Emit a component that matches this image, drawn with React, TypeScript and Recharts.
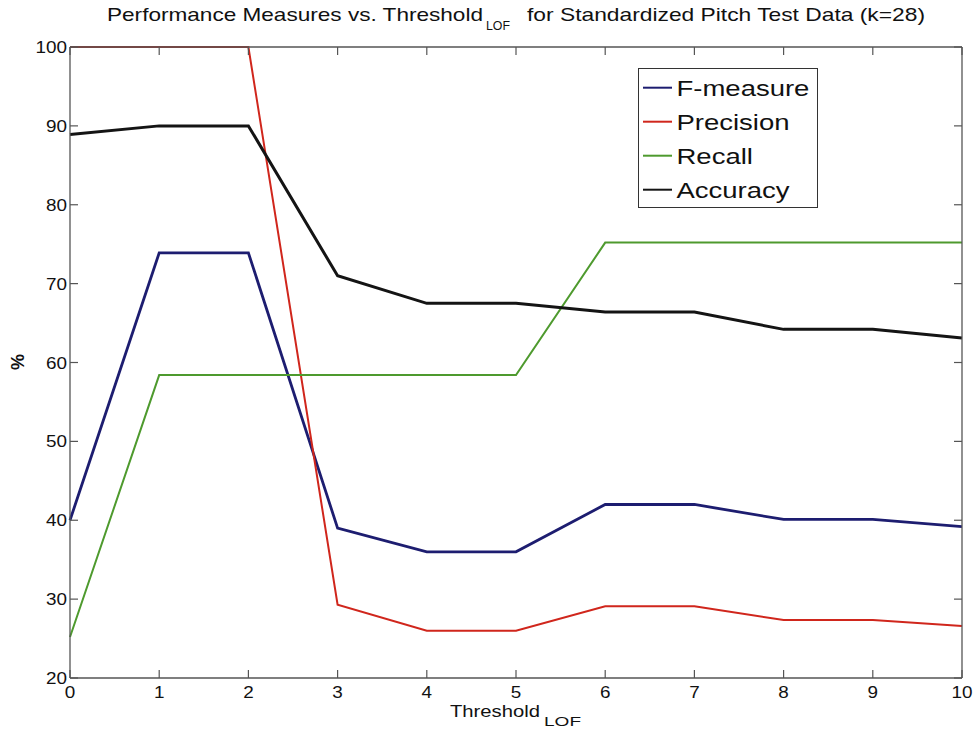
import { Legend, Line, LineChart, XAxis, YAxis } from 'recharts'

const FONT = '"Liberation Sans", Arial, Helvetica, sans-serif'
const AXIS = '#555'
const TICK_LEN = 8
// glyphs in this figure are drawn a little wide
const STRETCH = 1.18

const thresholds = [0, 1, 2, 3, 4, 5, 6, 7, 8, 9, 10]
const fMeasure = [40.0, 73.9, 73.9, 39.0, 36.0, 36.0, 42.0, 42.0, 40.1, 40.1, 39.2]
const precision = [100, 100, 100, 29.3, 26.0, 26.0, 29.1, 29.1, 27.35, 27.35, 26.6]
const recall = [25.2, 58.4, 58.4, 58.4, 58.4, 58.4, 75.2, 75.2, 75.2, 75.2, 75.2]
const accuracy = [88.9, 90.0, 90.0, 71.0, 67.5, 67.5, 66.4, 66.4, 64.2, 64.2, 63.1]

const xTicks = [0, 1, 2, 3, 4, 5, 6, 7, 8, 9, 10]
const yTicks = [20, 30, 40, 50, 60, 70, 80, 90, 100]

type Series = { key: string; name: string; color: string; width: number }

const series: Series[] = [
  { key: 'fMeasure', name: 'F-measure', color: '#1d1d70', width: 2.8 },
  { key: 'precision', name: 'Precision', color: '#d0261c', width: 2 },
  { key: 'recall', name: 'Recall', color: '#4e9a2e', width: 2 },
  { key: 'accuracy', name: 'Accuracy', color: '#141414', width: 3 },
]

const rows = thresholds.map((t, i) => ({
  t,
  fMeasure: fMeasure[i],
  precision: precision[i],
  recall: recall[i],
  accuracy: accuracy[i],
}))

type TickProps = { x?: number; y?: number; payload?: { value: number } }

// ticks point into the plot box, labels sit outside
function BottomTick({ x = 0, y = 0, payload }: TickProps) {
  return (
    <g>
      <line x1={x} x2={x} y1={y} y2={y - TICK_LEN} stroke={AXIS} strokeWidth={1.2} />
      <text
        transform={`translate(${x} ${y + 20}) scale(${STRETCH} 1)`}
        textAnchor="middle"
        fontSize={16}
        fontFamily={FONT}
        fill="#111"
      >
        {payload?.value}
      </text>
    </g>
  )
}

function LeftTick({ x = 0, y = 0, payload }: TickProps) {
  return (
    <g>
      <line x1={x} x2={x + TICK_LEN} y1={y} y2={y} stroke={AXIS} strokeWidth={1.2} />
      <text
        transform={`translate(${x - 3} ${y + 6}) scale(${STRETCH} 1)`}
        textAnchor="end"
        fontSize={16}
        fontFamily={FONT}
        fill="#111"
      >
        {payload?.value}
      </text>
    </g>
  )
}

function TopTick({ x = 0, y = 0 }: TickProps) {
  return <line x1={x} x2={x} y1={y} y2={y + TICK_LEN} stroke={AXIS} strokeWidth={1.2} />
}

function RightTick({ x = 0, y = 0 }: TickProps) {
  return <line x1={x} x2={x - TICK_LEN} y1={y} y2={y} stroke={AXIS} strokeWidth={1.2} />
}

function LegendBox() {
  return (
    <svg width={180} height={140} style={{ display: 'block' }}>
      <rect x={0.5} y={0.5} width={179} height={139} fill="#fff" stroke="#333" strokeWidth={1} />
      {series.map((s, i) => {
        const cy = 19.7 + i * 34
        return (
          <g key={s.key}>
            <line x1={5} x2={34} y1={cy} y2={cy} stroke={s.color} strokeWidth={2} />
            <text
              transform={`translate(38.5 ${cy + 8}) scale(1.25 1)`}
              fontSize={22}
              fontFamily={FONT}
              fill="#111"
            >
              {s.name}
            </text>
          </g>
        )
      })}
    </svg>
  )
}

export default function App() {
  const axisLine = { stroke: AXIS, strokeWidth: 1.3 }
  return (
    <div style={{ position: 'absolute', left: 0, top: 0, width: 975, height: 736, background: '#fff' }}>
      <LineChart
        width={975}
        height={736}
        data={rows}
        margin={{ top: 46, right: 12, bottom: 57, left: 69 }}
      >
        <XAxis
          xAxisId="bottom"
          dataKey="t"
          type="number"
          domain={[0, 10]}
          ticks={xTicks}
          interval={0}
          height={1}
          tickSize={0}
          tickMargin={0}
          tickLine={false}
          axisLine={axisLine}
          tick={<BottomTick />}
        />
        <XAxis
          xAxisId="top"
          orientation="top"
          type="number"
          domain={[0, 10]}
          allowDataOverflow
          ticks={xTicks}
          interval={0}
          height={1}
          tickSize={0}
          tickMargin={0}
          tickLine={false}
          axisLine={axisLine}
          tick={<TopTick />}
        />
        <YAxis
          yAxisId="left"
          type="number"
          domain={[20, 100]}
          ticks={yTicks}
          interval={0}
          width={1}
          tickSize={0}
          tickMargin={0}
          tickLine={false}
          axisLine={axisLine}
          tick={<LeftTick />}
        />
        <YAxis
          yAxisId="right"
          orientation="right"
          type="number"
          domain={[20, 100]}
          allowDataOverflow
          ticks={yTicks}
          interval={0}
          width={1}
          tickSize={0}
          tickMargin={0}
          tickLine={false}
          axisLine={axisLine}
          tick={<RightTick />}
        />
        <Legend
          layout="vertical"
          align="center"
          verticalAlign="middle"
          content={<LegendBox />}
          wrapperStyle={{ left: 638, top: 68, width: 180, height: 140 }}
        />
        {series.map((s) => (
          <Line
            key={s.key}
            xAxisId="bottom"
            yAxisId="left"
            type="linear"
            dataKey={s.key}
            name={s.name}
            stroke={s.color}
            strokeWidth={s.width}
            dot={false}
            activeDot={false}
            isAnimationActive={false}
          />
        ))}
      </LineChart>
      <svg
        width={975}
        height={736}
        style={{ position: 'absolute', left: 0, top: 0, pointerEvents: 'none' }}
        fontFamily={FONT}
        fill="#111"
      >
        <text x={107} y={21} fontSize={18.5} textLength={376} lengthAdjust="spacingAndGlyphs">
          Performance Measures vs. Threshold
        </text>
        <text x={486} y={30} fontSize={12.5} textLength={24} lengthAdjust="spacingAndGlyphs">
          LOF
        </text>
        <text x={527} y={21} fontSize={18.5} textLength={398} lengthAdjust="spacingAndGlyphs">
          for Standardized Pitch Test Data (k=28)
        </text>
        <text x={450} y={717} fontSize={17} textLength={90} lengthAdjust="spacingAndGlyphs">
          Threshold
        </text>
        <text x={544} y={726} fontSize={12.5} textLength={37} lengthAdjust="spacingAndGlyphs">
          LOF
        </text>
        <text
          transform="translate(24 362) rotate(-90)"
          textAnchor="middle"
          fontSize={18}
          fontWeight="bold"
        >
          %
        </text>
      </svg>
    </div>
  )
}
